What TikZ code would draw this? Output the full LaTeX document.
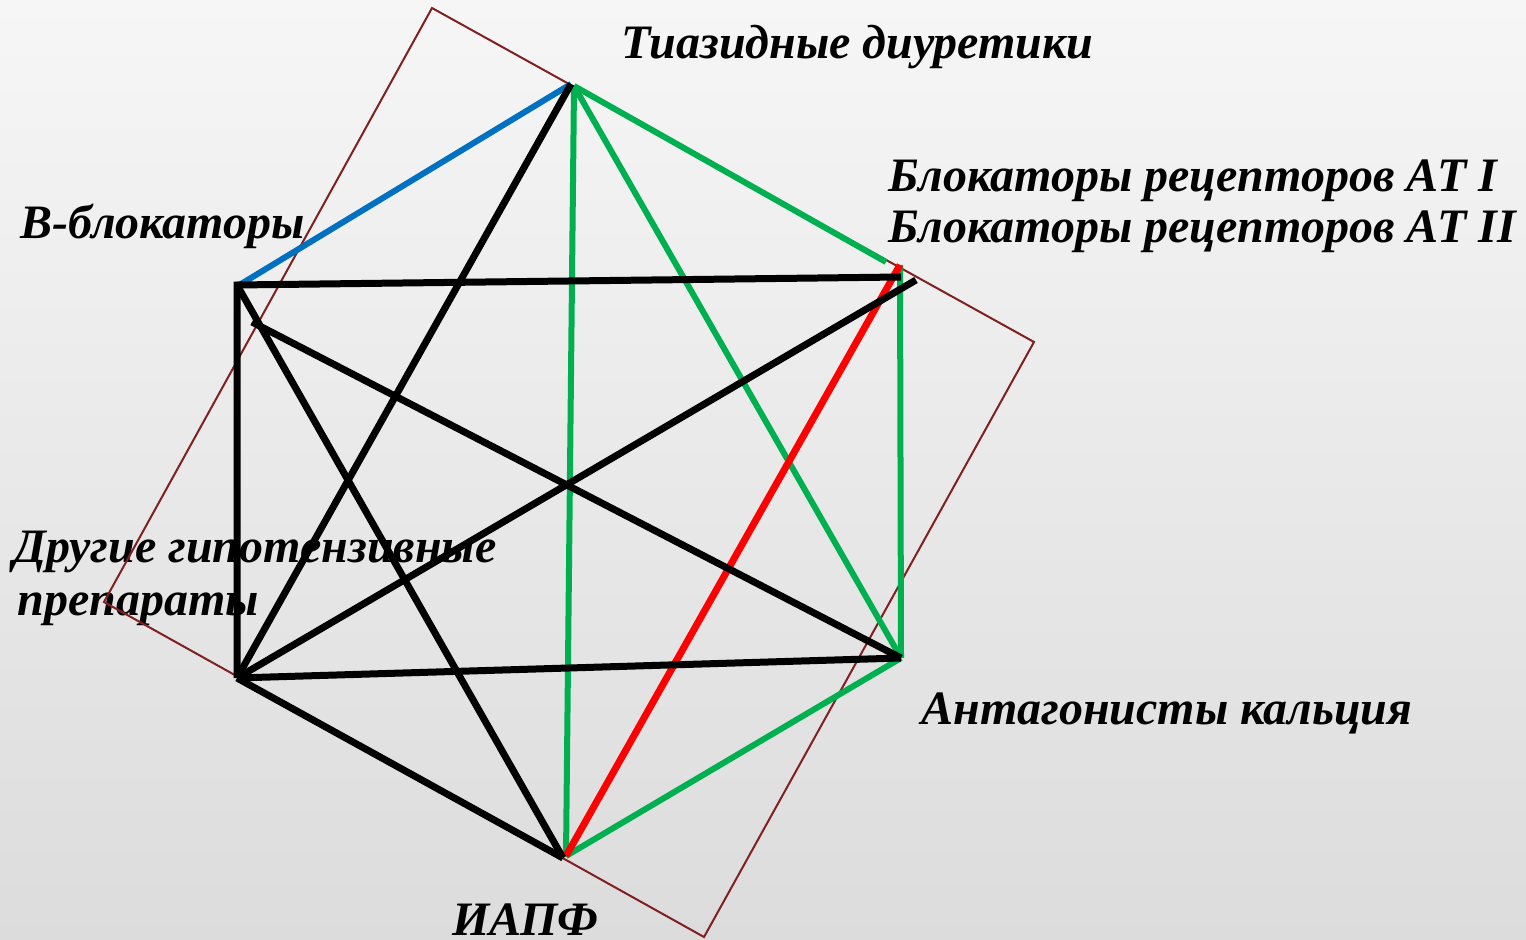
\documentclass[tikz,border=0pt]{standalone}
\usepackage{fontspec}
\setmainfont{Liberation Serif}
\definecolor{frame}{RGB}{128,32,32}
\definecolor{gr}{RGB}{0,176,80}
\definecolor{bl}{RGB}{0,112,192}
\definecolor{bgtop}{RGB}{246,246,246}
\definecolor{bgbot}{RGB}{220,220,220}
\begin{document}
\begin{tikzpicture}[x=0.5pt,y=-0.5pt,
  lbl/.style={anchor=base west,inner sep=0pt,font=\fontsize{24}{28}\selectfont\bfseries\itshape},
  blk/.style={line width=3.5pt,black},
  grn/.style={line width=3pt,gr},
  rd/.style={line width=3.5pt,red},
  blu/.style={line width=3pt,bl},
  frm/.style={line width=1pt,frame}]
\shade[top color=bgtop,bottom color=bgbot] (0,0) rectangle (1526,940);
\useasboundingbox (0,0) rectangle (1526,940);
% labels
\node[lbl] (lT) at (621,59) {Тиазидные диуретики};
\node[lbl] (lAT1) at (888,192) {Блокаторы рецепторов АТ I};
\node[lbl] (lAT2) at (888,243) {Блокаторы рецепторов АТ II};
\node[lbl] (lB) at (20,239) {В-блокаторы};
\node[lbl] (lO1) at (13,563) {Другие гипотензивные};
\node[lbl] (lO2) at (17,616) {препараты};
\node[lbl] (lI) at (452,935) {ИАПФ};
\node[lbl] (lC) at (921,724) {Антагонисты кальция};
% frame
\coordinate (R1) at (432,8);
\coordinate (R2) at (1034,342);
\coordinate (R3) at (704,937);
\coordinate (R4) at (104,602);
\draw[frm] (R1) -- (R2) -- (R3) -- (R4) -- cycle;
% vertices
\coordinate (T) at (571,84);
\coordinate (Tg) at (574,86);
\coordinate (B) at (237,285);
\coordinate (Bb) at (241,284);
\coordinate (B2) at (252,322);
\coordinate (ATt) at (886,262);
\coordinate (ATg) at (900,265);
\coordinate (ATh) at (901,277);
\coordinate (ATd) at (916,280);
\coordinate (O) at (237,678);
\coordinate (I) at (563,858);
\coordinate (Ig) at (566,856);
\coordinate (C) at (901,658);
% green
\draw[grn] (Tg) -- (ATt);
\draw[grn] (Tg) -- (C);
\draw[grn] (Tg) -- (Ig);
\draw[grn] (ATg) -- (C);
\draw[grn] (C) -- (Ig);
% red
\draw[rd] (Ig) -- (ATg);
% blue
\draw[blu] (Bb) -- (T);
% black
\draw[blk] (T) -- (O);
\draw[blk] (ATh) -- (B) -- (O);
\draw[blk] (B) -- (I);
\draw[blk] (B2) -- (C);
\draw[blk] (O) -- (ATd);
\draw[blk] (O) -- (C);
\draw[blk] (O) -- (I);
\end{tikzpicture}
\end{document}
